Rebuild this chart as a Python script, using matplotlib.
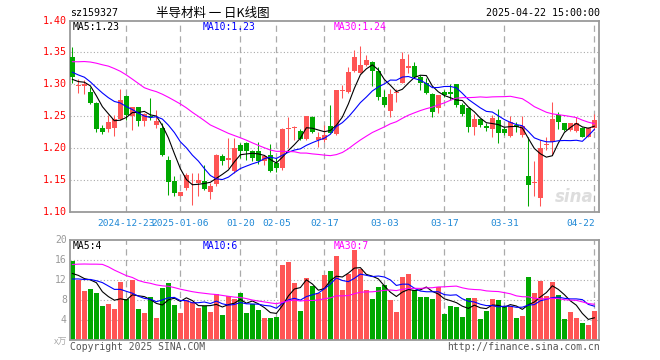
import matplotlib
matplotlib.use("Agg")
import matplotlib.pyplot as plt
import numpy as np
import pandas as pd

# ---------------- data ----------------
symbol = "sz159327"
title = "半导材料 一 日K线图"
stamp = "2025-04-22 15:00:00"

trade_days = {
    "2024-12": [10, 11, 12, 13, 16, 17, 18, 19, 20, 23, 24, 25, 26, 27, 30, 31],
    "2025-01": [2, 3, 6, 7, 8, 9, 10, 13, 14, 15, 16, 17, 20, 21, 22, 23, 24, 27],
    "2025-02": [5, 6, 7, 10, 11, 12, 13, 14, 17, 18, 19, 20, 21, 24, 25, 26, 27, 28],
    "2025-03": [3, 4, 5, 6, 7, 10, 11, 12, 13, 14, 17, 18, 19, 20, 21, 24, 25, 26, 27, 28, 31],
    "2025-04": [1, 2, 3, 7, 8, 9, 10, 11, 14, 15, 16, 17, 18, 21, 22],
}
dates = [f"{m}-{d:02d}" for m, ds in trade_days.items() for d in ds]

tick_dates = ["2024-12-23", "2025-01-06", "2025-01-20", "2025-02-05", "2025-02-17",
              "2025-03-03", "2025-03-17", "2025-03-31", "2025-04-22"]
tick_labels = ["2024-12-23", "2025-01-06", "01-20", "02-05", "02-17",
               "03-03", "03-17", "03-31", "04-22"]

opens = [1.343, 1.297, 1.298, 1.2885, 1.2714, 1.2323, 1.2297, 1.2313, 1.2458, 1.2818,
         1.2505, 1.2641, 1.2427, 1.2505, 1.2365, 1.2323, 1.1818, 1.148, 1.1255, 1.1375,
         1.148, 1.146, 1.148, 1.1307, 1.1443, 1.188, 1.1818, 1.1635, 1.2047, 1.2078,
         1.1948, 1.1958, 1.1792, 1.1896, 1.1766, 1.1688, 1.2297, 1.2313, 1.2276, 1.214,
         1.2495, 1.213, 1.213, 1.2349, 1.2224, 1.2896, 1.2885, 1.3214, 1.3182, 1.3302,
         1.3354, 1.3214, 1.2797, 1.2589, 1.2859, 1.3026, 1.325, 1.3286, 1.312, 1.3026,
         1.2849, 1.2625, 1.2885, 1.2875, 1.3005, 1.2677, 1.2625, 1.2328, 1.2453, 1.2349,
         1.2297, 1.2443, 1.2297, 1.2193, 1.2365, 1.2208, 1.1568, 1.1453, 1.1219, 1.2052,
         1.2104, 1.2521, 1.2391, 1.2286, 1.2276, 1.2313, 1.2182, 1.2313]
highs = [1.359, 1.308, 1.307, 1.2964, 1.273, 1.2365, 1.252, 1.252, 1.2922, 1.2833,
         1.2651, 1.2651, 1.2547, 1.2781, 1.26, 1.24, 1.188, 1.157, 1.132, 1.161,
         1.161, 1.161, 1.174, 1.1453, 1.1906, 1.1906, 1.2156, 1.2167, 1.2078, 1.2104,
         1.1974, 1.2104, 1.1896, 1.2068, 1.1844, 1.2313, 1.2495, 1.2349, 1.2297, 1.2505,
         1.2505, 1.226, 1.2365, 1.2677, 1.2911, 1.299, 1.3276, 1.3536, 1.360, 1.3458,
         1.337, 1.3266, 1.2911, 1.2922, 1.2922, 1.351, 1.3474, 1.3354, 1.3146, 1.3094,
         1.286, 1.2833, 1.2911, 1.300, 1.3005, 1.2703, 1.2625, 1.2536, 1.2453, 1.2391,
         1.2521, 1.2609, 1.2328, 1.2505, 1.2417, 1.2505, 1.2182, 1.1792, 1.213, 1.2182,
         1.2729, 1.2573, 1.2391, 1.2391, 1.2484, 1.2328, 1.2328, 1.2536]
lows = [1.302, 1.286, 1.285, 1.2693, 1.226, 1.2224, 1.226, 1.2193, 1.2443, 1.2443,
        1.2286, 1.2349, 1.2349, 1.2443, 1.231, 1.187, 1.127, 1.1245, 1.1245, 1.134,
        1.1115, 1.1245, 1.135, 1.120, 1.140, 1.174, 1.1688, 1.161, 1.1839, 1.1818,
        1.1792, 1.1755, 1.174, 1.162, 1.162, 1.1662, 1.200, 1.213, 1.213, 1.213,
        1.2245, 1.2026, 1.2104, 1.2234, 1.2208, 1.278, 1.286, 1.3198, 1.3172, 1.3286,
        1.2974, 1.2755, 1.2651, 1.2495, 1.2729, 1.3016, 1.3172, 1.3094, 1.2911, 1.2849,
        1.2484, 1.2557, 1.2807, 1.2755, 1.2651, 1.2505, 1.226, 1.2208, 1.2328, 1.2276,
        1.2177, 1.2083, 1.2208, 1.2182, 1.226, 1.2182, 1.1089, 1.1245, 1.1089, 1.1974,
        1.1896, 1.2297, 1.2276, 1.2276, 1.226, 1.2172, 1.2172, 1.2286]
closes = [1.311, 1.2975, 1.300, 1.2714, 1.2302, 1.226, 1.2417, 1.2458, 1.2755, 1.252,
          1.2641, 1.2427, 1.2536, 1.2484, 1.2427, 1.1896, 1.1464, 1.1297, 1.1307, 1.1583,
          1.1484, 1.150, 1.136, 1.1401, 1.1896, 1.1792, 1.1839, 1.200, 1.1958, 1.1958,
          1.1844, 1.1792, 1.188, 1.1636, 1.1688, 1.2297, 1.2313, 1.2339, 1.2146, 1.2505,
          1.226, 1.2172, 1.2208, 1.2245, 1.2911, 1.2901, 1.3198, 1.3432, 1.3302, 1.338,
          1.3214, 1.2807, 1.2677, 1.2849, 1.2885, 1.3396, 1.3286, 1.312, 1.3026, 1.286,
          1.2573, 1.2833, 1.2833, 1.2854, 1.2677, 1.2536, 1.2328, 1.2453, 1.2365, 1.2313,
          1.2469, 1.2245, 1.2245, 1.2417, 1.2328, 1.2349, 1.1427, 1.1458, 1.200, 1.2063,
          1.2458, 1.2417, 1.2286, 1.2391, 1.2391, 1.2182, 1.2313, 1.2443]
volumes = [15.8, 12.1, 9.8, 10.2, 9.4, 6.8, 7.2, 6.2, 11.6, 8.2,
           12.0, 6.2, 5.4, 8.6, 4.4, 10.4, 11.4, 7.0, 5.4, 8.0,
           7.6, 6.4, 6.8, 5.6, 9.2, 5.0, 8.8, 8.2, 9.4, 5.4,
           7.2, 6.0, 4.4, 4.4, 4.6, 15.0, 15.6, 11.4, 5.8, 12.4,
           10.8, 9.4, 13.0, 13.8, 16.8, 10.0, 13.3, 18.0, 14.3, 10.0,
           8.2, 10.6, 11.0, 8.0, 5.7, 12.6, 13.2, 10.0, 8.6, 8.6,
           8.2, 10.6, 5.2, 6.8, 6.6, 4.6, 8.4, 8.4, 4.2, 5.8,
           8.2, 8.0, 6.6, 6.8, 4.4, 4.8, 12.6, 9.4, 11.8, 8.8,
           11.6, 9.0, 4.2, 5.6, 4.4, 3.4, 3.0, 5.8]

# earlier sessions (not drawn, estimated from the moving-average lines at the left edge)
prior_closes = [1.300, 1.290, 1.295, 1.285, 1.300, 1.305, 1.360, 1.405, 1.425, 1.460,
                1.445, 1.455, 1.350, 1.325, 1.310, 1.290, 1.285, 1.290, 1.340, 1.360,
                1.340, 1.335, 1.345, 1.320, 1.310, 1.315, 1.305, 1.300, 1.308]
prior_volumes = [10, 9, 11, 9.5, 8, 22, 26, 28, 25, 23,
                 24, 16, 15, 14, 16, 14, 15, 15, 15.5, 15,
                 12, 11, 10, 12, 10.5, 14, 13, 11.5, 12.2]

ma_windows = [5, 10, 30]
price_levels = [1.10, 1.15, 1.20, 1.25, 1.30, 1.35, 1.40]
vol_levels = [4, 8, 12, 16, 20]

# ---------------- styling ----------------
RED = "#ff5555"
GREEN = "#00a800"
MA_COLORS = ["#000000", "#0000ff", "#ff00ff"]
GRID = "#aaaaaa"
FRAME = "#9a9a9a"
DATE_C = "#1e88d6"
MONO = "DejaVu Sans Mono"
CJK = ["Noto Sans CJK SC", "DejaVu Sans"]

W, H = 660, 360
fig = plt.figure(figsize=(W / 100, H / 100), dpi=100)
fig.patch.set_facecolor("white")


def fx(x):
    return x / W


def fy(y):
    return 1 - y / H


L, R = 70, 599
ax = fig.add_axes([fx(L), fy(212), fx(R) - fx(L), fy(20.5) - fy(212)])
axv = fig.add_axes([fx(L), fy(340), fx(R) - fx(L), fy(240) - fy(340)])

n = len(closes)
x = np.arange(n)
o = np.array(opens)
h = np.array(highs)
lo = np.array(lows)
c = np.array(closes)
v = np.array(volumes)
up = c >= o
cols = np.where(up, RED, GREEN)

all_c = pd.Series(prior_closes + closes)
all_v = pd.Series(prior_volumes + volumes)
ma_p = [all_c.rolling(w).mean().to_numpy()[-n:] for w in ma_windows]
ma_v = [all_v.rolling(w).mean().to_numpy()[-n:] for w in ma_windows]

tick_idx = [dates.index(d) for d in tick_dates]

for a in (ax, axv):
    a.set_xlim(-0.4, n - 0.22)
    a.set_xticks([])
    a.set_yticks([])
    for s in a.spines.values():
        s.set_color(FRAME)
        s.set_linewidth(1.3)
    for t in tick_idx:
        a.axvline(t, color=GRID, lw=0.9, ls=(0, (5, 3.5)), zorder=0)

ax.set_ylim(1.10, 1.40)
axv.set_ylim(0, 20)

for lv in price_levels[1:-1]:
    ax.axhline(lv, color=GRID, lw=0.8, ls=(0, (1, 2)), zorder=0)
for lv in vol_levels[:-1]:
    axv.axhline(lv, color=GRID, lw=0.8, ls=(0, (1, 2)), zorder=0)

# candles
bw = 0.78
ax.vlines(x, lo, h, colors=cols, lw=0.75, zorder=2)
body_h = np.maximum(np.abs(c - o), 0.0012)
ax.bar(x, body_h, bottom=np.minimum(o, c), width=bw, color=cols, lw=0, zorder=3)

for m, col in zip(ma_p, MA_COLORS):
    ax.plot(x, m, color=col, lw=0.8, zorder=4)

# volume
axv.bar(x, v, width=bw, color=cols, lw=0, zorder=2)
for m, col in zip(ma_v, MA_COLORS):
    axv.plot(x, m, color=col, lw=0.8, zorder=4)

# legends
leg_x = [73, 203, 334]
for i, (wnd, col) in enumerate(zip(ma_windows, MA_COLORS)):
    fig.text(fx(leg_x[i]), fy(27), f"MA{wnd}:{ma_p[i][-1]:.2f}", color=col,
             family=MONO, fontsize=7, va="center", ha="left")
    fig.text(fx(leg_x[i]), fy(246), f"MA{wnd}:{int(ma_v[i][-1])}", color=col,
             family=MONO, fontsize=7, va="center", ha="left")

# price axis labels
for lv in price_levels:
    ax.text(-0.006, lv, f"{lv:.2f}", transform=ax.get_yaxis_transform(),
            ha="right", va="center", color="#ff0000", family=MONO, fontsize=7.2)
for lv in vol_levels:
    axv.text(-0.006, lv, f"{lv}", transform=axv.get_yaxis_transform(),
             ha="right", va="center", color="#999999", family=MONO, fontsize=7)
fig.text(fx(67), fy(342), "x万", color="#aaaaaa", family=CJK, fontsize=6.5,
         ha="right", va="center")

# date labels
for k, (t, lab) in enumerate(zip(tick_idx, tick_labels)):
    ha = "right" if k == len(tick_idx) - 1 else "center"
    xx = t + 0.1 if ha == "right" else t
    ax.text(xx, -0.035, lab, transform=ax.get_xaxis_transform(), ha=ha, va="top",
            color=DATE_C, family=MONO, fontsize=6.8)

# header
fig.text(fx(70), fy(13), symbol, family=MONO, fontsize=7.2, ha="left", va="center")
fig.text(fx(213), fy(13), title, family=CJK, fontsize=9, ha="center", va="center")
fig.text(fx(600), fy(13), stamp, family=MONO, fontsize=7.2, ha="right", va="center")

# footer
fig.text(fx(70), fy(347), "Copyright 2025 SINA.COM", family=MONO, fontsize=7,
         color="#555555", ha="left", va="center")
fig.text(fx(600), fy(347), "http://finance.sina.com.cn", family=MONO, fontsize=7,
         color="#555555", ha="right", va="center")

# watermark
fig.text(fx(574), fy(197), "sina", family="DejaVu Sans", fontsize=12, style="italic",
         weight="bold", color="#dddddd", ha="center", va="center", zorder=0)

fig.savefig("out.png", dpi=100, facecolor="white")
